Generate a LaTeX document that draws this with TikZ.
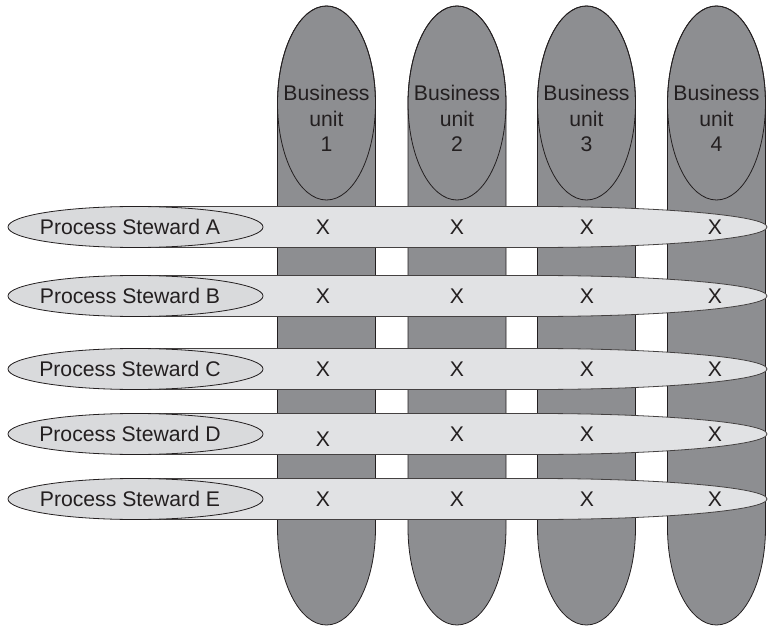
\documentclass[tikz,border=0pt]{standalone}
\usepackage{fontspec}
\setmainfont{Liberation Sans}
\usetikzlibrary{shapes.geometric}
\definecolor{unitgray}{HTML}{8D8E91}
\definecolor{bandgray}{HTML}{E1E2E4}
\definecolor{stewgray}{HTML}{D9DADC}
\definecolor{inkgray}{HTML}{231F20}
\tikzset{
  unitcol/.style={fill=unitgray, draw=inkgray, line width=.8pt},
  unitcap/.style={ellipse, draw=inkgray, line width=.8pt, minimum width=98pt, minimum height=194pt, inner sep=0pt},
  band/.style={fill=bandgray, draw=inkgray!85, line width=.8pt},
  steward/.style={ellipse, fill=stewgray, draw=inkgray, line width=.8pt, minimum width=255pt, minimum height=41pt, inner sep=0pt},
}
\begin{document}
\begin{tikzpicture}[x=1pt, y=1pt, font=\fontsize{21.2pt}{25.5pt}\selectfont, text=inkgray, line join=round]
	\useasboundingbox (0,0) rectangle (768,-628);
	% business units (columns)
	\foreach \c/\n in {326.5/1, 457/2, 586.5/3, 716.5/4}{
		\draw[unitcol] (\c-49,-528) -- (\c-49,-103) arc[start angle=180, end angle=0, x radius=49pt, y radius=97pt]
			-- (\c+49,-528) arc[start angle=0, end angle=-180, x radius=49pt, y radius=97pt] -- cycle;
		\node[unitcap] (bu\n) at (\c,-103) {};
		\node[align=center] (bt\n) at ([yshift=-15.5pt]bu\n.center) {Business\\unit\\\n};
	}
	% process stewards (rows)
	\foreach \r/\y in {A/227, B/296, C/369, D/434, E/499}{
		\draw[band] (136,-\y+20.5) -- (535,-\y+20.5) arc[start angle=90, end angle=-90, x radius=232pt, y radius=20.5pt]
			-- (136,-\y-20.5) -- cycle;
		\node[steward] (ps\r) at (135.5,-\y) {};
		\node (pt\r) at ([xshift=-5.5pt]ps\r.center) {Process Steward \r};
	}
	% crossings
	\foreach \r/\y/\ya in {A/227/227, B/296/296, C/369/369, D/434/439, E/499/499}{
		\node (x\r1) at (323,-\ya) {X};
		\foreach \n/\c in {2/457, 3/587, 4/715}
			\node (x\r\n) at (\c,-\y) {X};
	}
\end{tikzpicture}
\end{document}
